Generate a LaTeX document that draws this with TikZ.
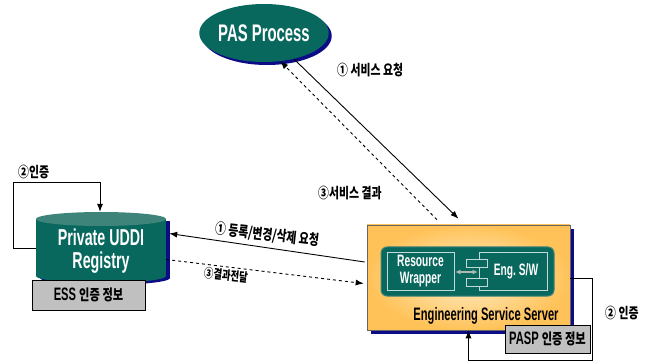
\documentclass[tikz,border=0pt]{standalone}
\usepackage{fontspec}
\setmainfont{Liberation Sans}[FakeStretch=0.62]
\newfontfamily\kr{Noto Sans CJK KR}[FakeStretch=0.75]
\usetikzlibrary{arrows.meta,shapes.geometric,shadows,calc}

\definecolor{teal1}{RGB}{8,104,94}
\definecolor{tealtop}{RGB}{62,132,122}
\definecolor{navy}{RGB}{12,12,135}
\definecolor{orgout}{RGB}{255,194,88}
\definecolor{orgin}{RGB}{255,240,205}
\definecolor{infogray}{RGB}{192,192,192}
\definecolor{arrowgray}{RGB}{175,185,180}

\begin{document}
\begin{tikzpicture}[x=1pt,y=-1pt,
  tip/.style={-{Latex[length=8pt,width=6pt]}},
  conn/.style={line width=0.9pt, tip},
  dconn/.style={conn, dash pattern=on 3pt off 3pt},
  loopline/.style={line width=0.8pt, tip},
  infobox/.style={draw=black, line width=0.9pt, fill=infogray, inner sep=0pt,
    font=\bfseries\fontsize{18}{18}\selectfont},
  boxkr/.style={},
  lbl/.style={font=\kr\bfseries\fontsize{14.5}{14.5}\selectfont, inner sep=0pt},
  whitebox/.style={draw=white!75!teal1, line width=0.7pt, inner sep=0pt, text=white,
    font=\bfseries\fontsize{16.5}{17}\selectfont, align=center},
  navyshadow/.style={drop shadow={shadow xshift=#1, shadow yshift=-#1, fill=navy, opacity=1}},
]
\useasboundingbox (0,0) rectangle (658,363);

% PAS process
\node[ellipse, fill=teal1, minimum width=128pt, minimum height=58pt, inner sep=0pt,
  text=white, font=\bfseries\fontsize{24}{24}\selectfont, navyshadow=3pt] (pas) at (264,33) {PAS Process};

% Private UDDI registry cylinder
\begin{scope}[shift={(4,2)}]
  \fill[navy] (36,219) rectangle (166,276);
  \fill[navy] (101,276) ellipse[x radius=65, y radius=7];
\end{scope}
\fill[teal1] (36,219) rectangle (166,276);
\fill[teal1] (101,276) ellipse[x radius=65, y radius=7];
\fill[tealtop] (101,219) ellipse[x radius=65, y radius=7];
\node[minimum width=130pt, minimum height=71pt, inner sep=0pt] (uddi) at (101,247.5) {};
\node[text=white, align=center, inner sep=0pt, font=\bfseries\fontsize{23}{23}\selectfont] (uddiname) at (101,251) {Private UDDI\\Registry};

% self-authentication loop of the registry
\draw[loopline] ($(uddi.west)+(0,0.5)$) -- ++(-22,0) -- ++(0,-66) -| ($(uddi.north)+(-1,0)$);
\node[lbl, anchor=west] (auth1) at (18,172) {②인증};

\node[infobox, minimum width=113pt, minimum height=30pt] (ess) at (88.5,295) {ESS {\kr\fontsize{15}{15}\selectfont 인증 정보}};

% Engineering service server
\node[draw=black!60, line width=0.6pt, inner color=orgin, outer color=orgout,
  minimum width=203pt, minimum height=105pt, navyshadow=4pt] (server) at (468.5,277.5) {};
\node[draw=tealtop, line width=1pt, fill=teal1, rounded corners=6pt,
  minimum width=173pt, minimum height=49pt] (inner) at (467.5,271.5) {};
\node[whitebox, minimum width=67pt, minimum height=38pt] (rw) at (420.5,271) {Resource\\Wrapper};
\node[whitebox, minimum width=68pt, minimum height=38pt] (eng) at (513,271) {\hspace{6pt}Eng.\ S/W};
\node[draw=white!75!teal1, line width=0.7pt, fill=teal1, minimum width=21pt, minimum height=8pt, inner sep=0pt] (comp1) at (476.5,263) {};
\node[draw=white!75!teal1, line width=0.7pt, fill=teal1, minimum width=21pt, minimum height=8pt, inner sep=0pt] (comp2) at (476.5,282) {};
\draw[arrowgray, line width=1.2pt, {Latex[length=5pt,width=5pt]}-{Latex[length=5pt,width=5pt]}]
  ($(rw.east)+(1,1)$) -- ($(eng.west)+(-1,1)$);
\node[font=\bfseries\fontsize{18}{18}\selectfont, inner sep=0pt] (servername) at (486,316) {Engineering Service Server};

% self-authentication loop of the server
\draw[loopline] ($(server.east)+(0,0.5)$) -- ++(22,0) -- ++(0,82) -| (server.south);
\node[lbl, anchor=west] (auth2) at (605,313) {② 인증};
\node[infobox, minimum width=85pt, minimum height=28pt] (pasp) at (547.5,339) {PASP {\kr\fontsize{15}{15}\selectfont 인증 정보}};

% service request / result between PAS and server
\draw[conn] (pas.-41) -- ($(server.north)+(-10,-6)$);
\draw[dconn] ($(server.north)+(-31.5,-5)$) -- (pas.-60);
\node[lbl, anchor=west] (req) at (337,70) {① 서비스 요청};
\node[lbl, anchor=west] (res) at (318,193) {③서비스 결과};

% registration request / result between server and registry
\draw[conn] ($(server.west)+(-2,-15.5)$) -- ($(uddi.east)+(3,-14)$);
\draw[dconn] ($(uddi.east)+(0,12)$) -- ($(server.west)+(-3,6)$);
\node[lbl, rotate=-6.5] (reg) at (267,235) {① 등록/변경/삭제 요청};
\node[lbl, rotate=-6, font=\kr\bfseries\fontsize{12.5}{12.5}\selectfont] (regres) at (226,275) {③결과전달};
\end{tikzpicture}
\end{document}
